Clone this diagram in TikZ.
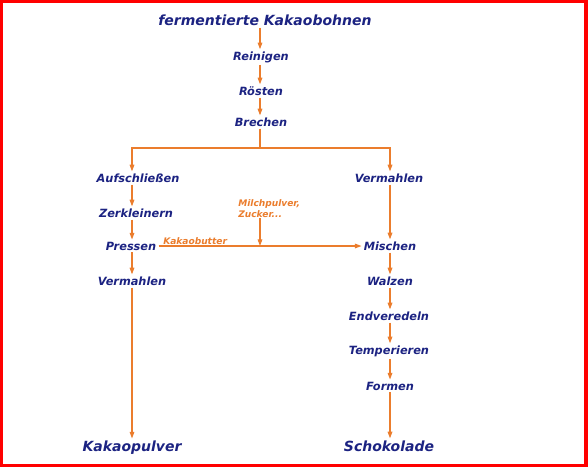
\documentclass[tikz,border=0pt]{standalone}
\usepackage{fontspec}
\setmainfont{DejaVu Sans}
\usetikzlibrary{arrows.meta}
\definecolor{txtblue}{RGB}{28,35,130}
\definecolor{arrorange}{RGB}{235,125,45}
\begin{document}
\begin{tikzpicture}[x=0.75pt,y=-0.75pt,
  stepnode/.style={text=txtblue,font=\fontsize{8.5}{10}\selectfont\bfseries\itshape,inner sep=1.5pt},
  bignode/.style={text=txtblue,font=\fontsize{10.5}{12}\selectfont\bfseries\itshape,inner sep=1.5pt},
  addnode/.style={text=arrorange,font=\fontsize{6.8}{8.3}\selectfont\bfseries\itshape,inner sep=0pt,align=left},
  flow/.style={draw=arrorange,line width=0.8pt,-{Triangle[length=5pt,width=3.5pt]}},
  plain/.style={draw=arrorange,line width=0.8pt}]
\useasboundingbox (0,0) rectangle (588,468);
\fill[white] (0,0) rectangle (588,468);
\draw[red,line width=2.6pt] (1.7,1.5) rectangle (586,465.5);
% coordinates for columns
\coordinate (L) at (132,0);
\coordinate (R) at (390,0);
\coordinate (M) at (260,0);
% center column
\node[bignode] (ferm) at (265,20) {fermentierte Kakaobohnen};
\node[stepnode] (rein) at (261,57) {Reinigen};
\node[stepnode] (roest) at (261,91) {Rösten};
\node[stepnode] (brech) at (261,122) {Brechen};
\coordinate (split) at (260,148);
% left column
\node[stepnode] (auf) at (138,178) {Aufschließen};
\node[stepnode] (zerk) at (136,213) {Zerkleinern};
\node[stepnode] (press) at (131,246) {Pressen};
\node[stepnode] (vermL) at (132,281) {Vermahlen};
\node[bignode] (kakao) at (132,447.5) {Kakaopulver};
% right column
\node[stepnode] (vermR) at (389,178) {Vermahlen};
\node[stepnode] (misch) at (390,246) {Mischen};
\node[stepnode] (walz) at (390,281) {Walzen};
\node[stepnode] (endv) at (389,316) {Endveredeln};
\node[stepnode] (temp) at (389,351) {Temperieren};
\node[stepnode] (form) at (390,386) {Formen};
\node[bignode] (schoko) at (389,446) {Schokolade};
% additions
\node[addnode,anchor=south west] (butter) at (163,245) {Kakaobutter};
\node[addnode,anchor=north west] (milch) at (238,199.5) {Milchpulver,\\Zucker...};
% arrows center
\draw[flow] (ferm.south -| M) -- (rein.north -| M);
\draw[flow] (rein.south -| M) -- (roest.north -| M);
\draw[flow] (roest.south -| M) -- (brech.north -| M);
\draw[plain] (brech.south -| M) -- (split);
\draw[flow] (split) -| (auf.north -| L);
\draw[flow] (split) -| (vermR.north -| R);
% left
\draw[flow] (auf.south -| L) -- (zerk.north -| L);
\draw[flow] (zerk.south -| L) -- (press.north -| L);
\draw[flow] (press.south -| L) -- (vermL.north -| L);
\draw[flow] (vermL.south -| L) -- (kakao.north -| L);
% right
\draw[flow] (vermR.south -| R) -- (misch.north -| R);
\draw[flow] (misch.south -| R) -- (walz.north -| R);
\draw[flow] (walz.south -| R) -- (endv.north -| R);
\draw[flow] (endv.south -| R) -- (temp.north -| R);
\draw[flow] (temp.south -| R) -- (form.north -| R);
\draw[flow] (form.south -| R) -- (schoko.north -| R);
% cross connection
\draw[flow] (press.east) -- (misch.west);
\draw[flow] (milch.south -| M) -- (M |- press.east);
\end{tikzpicture}
\end{document}
